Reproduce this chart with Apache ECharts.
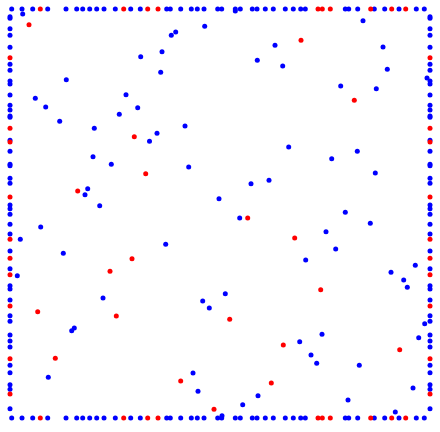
<!DOCTYPE html>
<html>
<head>
<meta charset="utf-8">
<script src="https://cdn.jsdelivr.net/npm/echarts@6/dist/echarts.min.js"></script>
<style>
    html, body { margin: 0; padding: 0; background: #fff; }
    #main { width: 440px; height: 432px; }
</style>
</head>
<body>
<div id="main"></div>
<script>
    // domain size
    const W = 420;
    const H = 409;

    // points on top/bottom edges (x positions, same on both edges)
    const edgeXBlue = [1.7, 12, 22.7, 37.7, 56, 66.7, 72.7, 79.7, 86.7, 94, 105.3, 120.7, 130.3, 156.7, 160.3, 170.7,
        181.3, 187.3, 194, 207.7, 211.7, 225.3, 230.3, 242.3, 247, 255.3, 263.3, 275.3, 283.3, 290.7, 295.3, 335.3,
        338.7, 347.7, 364.3, 374.7, 389, 406.3, 414.3];
    const edgeXRed = [30.3, 113.7, 137.7, 148, 308, 312.3, 320.3, 360.7, 381.7, 395.7];

    // points on left/right edges (y positions, same on both edges)
    const edgeYBlue = [401.3, 399.7, 389.3, 382.7, 370.7, 353.7, 347.7, 337, 334, 323, 312.7, 308, 302, 300.7, 277.7,
        266.7, 253.7, 252.3, 239.7, 234.7, 213, 209.3, 203.7, 193.7, 184, 167, 149.3, 132.3, 129, 118, 102.3, 96.7,
        83, 77, 71, 52.7, 45.3, 33.3, 28.7, 9.3];
    const edgeYRed = [360.3, 289.7, 276, 221, 178.7, 159.7, 143.3, 112, 59.3, 24];

    // interior points
    const innerBlue = [
        [12.7, 404], [130.7, 361.3], [56.3, 338.3], [25.3, 319.7], [35.7, 311], [116, 323.3], [127.7, 310.3],
        [109.3, 303.7], [49.7, 296.7], [84.3, 289.7], [139.5, 276.8], [194.7, 391.7], [165.7, 386], [161.3, 382.7],
        [152, 366.3], [265, 372.7], [247.3, 357.7], [272.7, 352], [150.7, 345.7], [175, 292], [147, 284.7],
        [278.7, 271], [225.3, 407], [353, 397.3], [373, 371], [377.3, 348.7], [417, 340], [330.7, 332],
        [366.3, 329.3], [83, 261.3], [101.3, 253.7], [77.7, 229.3], [75, 223.3], [89.7, 212.3], [30.7, 191],
        [10.3, 178.7], [53.3, 164.7], [7.3, 142.3], [178.7, 251], [241, 234.3], [259, 237.7], [209, 219.3],
        [229.7, 200], [155.7, 173.7], [347.3, 266.7], [321.7, 259.3], [365.3, 245], [335.3, 205.7], [360.3, 194.7],
        [316, 186.3], [325.7, 169], [295.7, 158], [405.3, 152.7], [381, 145.7], [393.7, 138], [397.3, 130.7],
        [93, 120], [61.7, 87.3], [64.3, 90], [38.3, 40.7], [215.3, 124.3], [192.7, 117], [199.3, 110], [183, 45],
        [188, 26.7], [248, 22.3], [232.7, 13.3], [212, 2.3], [414.7, 94.3], [312, 83.7], [289.7, 76.3],
        [408.7, 80.3], [301, 63], [306.7, 54.7], [349.3, 52.7], [403, 30], [338, 18], [385.3, 6]
    ];
    const innerRed = [
        [19, 393.3], [124.3, 281.3], [291, 377.7], [344.3, 317.7], [135.7, 244.3], [67.7, 227], [122, 159.3],
        [100, 146.7], [237.7, 200], [284.7, 180], [310.7, 128.3], [27.7, 106.3], [106.3, 102], [45.3, 59.7],
        [219.7, 98.7], [273.3, 73], [170.7, 37], [261.3, 35], [204, 8.7], [389.7, 68.3]
    ];

    function buildPoints(edgeX, edgeY, inner) {
        let pts = [];
        edgeX.forEach(x => { pts.push([x, 0]); pts.push([x, H]); });
        edgeY.forEach(y => { pts.push([0, y]); pts.push([W, y]); });
        return pts.concat(inner);
    }

    const myChart = echarts.init(document.getElementById('main'));
    let options = {
        animation: false,
        grid: {
            left: 10,
            right: 10,
            top: 9,
            bottom: 14
        },
        xAxis: {
            type: 'value',
            min: 0,
            max: W,
            show: false
        },
        yAxis: {
            type: 'value',
            min: 0,
            max: H,
            show: false
        },
        series: [
            {
                type: 'scatter',
                symbolSize: 5,
                itemStyle: { color: '#0000ff', opacity: 1 },
                data: buildPoints(edgeXBlue, edgeYBlue, innerBlue)
            },
            {
                type: 'scatter',
                symbolSize: 5,
                itemStyle: { color: '#ff0000', opacity: 1 },
                data: buildPoints(edgeXRed, edgeYRed, innerRed)
            }
        ]
    };
    myChart.setOption(options);
</script>
</body>
</html>
